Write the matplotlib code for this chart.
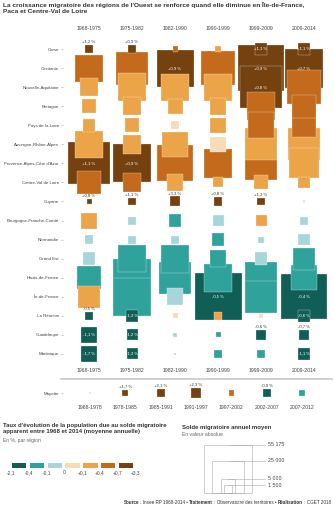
import matplotlib
matplotlib.use("Agg")
import matplotlib.pyplot as plt
import numpy as np
from matplotlib.patches import Rectangle
from matplotlib.lines import Line2D

plt.rcParams['font.family'] = ['Liberation Sans', 'DejaVu Sans']

periods = ["1968-1975", "1975-1982", "1982-1990", "1990-1999", "1999-2009", "2009-2014"]
regions = ["Corse", "Occitanie", "Nouvelle-Aquitaine", "Bretagne", "Pays de la Loire",
           "Auvergne-Rhône-Alpes", "Provence-Alpes-Côte d'Azur", "Centre-Val de Loire",
           "Guyane", "Bourgogne-Franche-Comté", "Normandie", "Grand Est", "Hauts-de-France",
           "Île-de-France", "La Réunion", "Guadeloupe", "Martinique"]

# taux annuel du au solde migratoire (%)
rate = np.array([
    [1.2, 0.9, 0.5, 0.3, 1.1, 1.1],
    [0.6, 0.6, 0.9, 0.5, 0.9, 0.7],
    [0.3, 0.35, 0.3, 0.3, 0.8, 0.5],
    [0.2, 0.25, 0.2, 0.2, 0.5, 0.45],
    [0.15, 0.15, 0.05, 0.2, 0.45, 0.4],
    [0.3, 0.15, 0.2, 0.05, 0.3, 0.3],
    [1.1, 0.9, 0.6, 0.4, 0.5, 0.2],
    [0.5, 0.5, 0.25, 0.2, 0.2, 0.15],
    [0.8, 1.1, 3.3, 0.8, 1.2, 0.05],
    [0.2, -0.05, -0.2, -0.05, 0.15, -0.05],
    [-0.05, -0.05, -0.05, -0.2, -0.02, -0.05],
    [-0.05, -0.2, -0.2, -0.15, -0.05, -0.15],
    [-0.2, -0.35, -0.3, -0.2, -0.15, -0.15],
    [0.15, -0.35, -0.05, -0.5, -0.2, -0.44],
    [-0.5, -1.3, 0.05, 0.2, 0.05, -0.6],
    [-1.1, -1.2, -0.05, -0.2, -0.6, -0.7],
    [-1.7, -1.3, -0.05, -0.2, -0.3, -1.1],
])

# solde migratoire annuel moyen (valeur absolue)
solde = np.array([
    [1500, 1500, 600, 860, 4000, 3400],
    [17500, 26000, 32800, 27700, 50700, 36400],
    [7800, 18800, 17500, 17500, 42200, 27700],
    [4700, 7800, 5400, 6900, 18800, 12700],
    [4000, 4700, 1500, 5400, 16200, 13800],
    [17500, 8600, 15000, 5400, 24500, 24500],
    [42200, 34600, 31000, 20100, 26000, 21500],
    [12700, 8600, 6900, 2400, 4700, 2900],
    [600, 1500, 2400, 1900, 1200, 200],
    [6100, 1500, 4000, 2900, 2900, 1500],
    [1900, 1500, 1500, 4000, 860, 2900],
    [4000, 17500, 18800, 6900, 4000, 11600],
    [12700, 34600, 24500, 18800, 24500, 15000],
    [11600, 34600, 6900, 52900, 24500, 48500],
    [1500, 3400, 600, 1500, 400, 3400],
    [6100, 2900, 400, 600, 2400, 2400],
    [6100, 2900, 100, 1200, 1200, 4000],
])

mayotte_periods = ["1968-1978", "1978-1985", "1985-1991", "1991-1997", "1997-2002", "2002-2007", "2007-2012"]
mayotte_rate = np.array([0.05, 1.7, 2.1, 2.3, 0.5, -0.9, -0.3])
mayotte_solde = np.array([100, 860, 1500, 2400, 600, 1500, 860])

class_bounds = [-2.1, -0.4, -0.1, 0, 0.1, 0.4, 0.7, 3.3]
class_labels = ["-2,1", "-0,4", "-0,1", "0", "+0,1", "+0,4", "+0,7", "+3,3"]
class_colors = ["#115e56", "#2fa39b", "#a8d5d9", "#f6dcb7", "#eba448", "#c46a1c", "#74410f"]

size_ref = [55175, 25000, 5000, 1500]
size_ref_labels = ["55 175", "25 000", "5 000", "1 500"]

W, H = 334, 512
MAX_SIDE = 48  # pixels for 55 175
FS = 3.7       # column labels
FS_ROW = 3.15  # region labels
TXT = "#444444"


def box(x0, y0, x1, y1):
    return [x0 / W, 1 - y1 / H, (x1 - x0) / W, (y1 - y0) / H]


def side_px(v):
    return MAX_SIDE * np.sqrt(np.abs(v) / 55175)


def class_of(r):
    return int(np.digitize(r, class_bounds[1:-1]))


def draw_squares(ax, xs, ys, vals, rates):
    xs, ys, vals, rates = [np.ravel(a) for a in (xs, ys, vals, rates)]
    order = np.argsort(-vals, kind="stable")
    side_pt = side_px(vals) * 72 / 100
    cols = [class_colors[class_of(r)] for r in rates]
    ax.scatter(xs[order], ys[order], s=side_pt[order] ** 2, marker="s",
               c=[cols[i] for i in order], edgecolors=(1, 1, 1, 0.55),
               linewidths=0.35, clip_on=False, zorder=2)
    for x, y, v, r, sp in zip(xs, ys, vals, rates, side_pt):
        k = class_of(r)
        if k not in (0, 6):
            continue
        txt = f"{r:+.1f} %".replace(".", ",")
        if side_px(v) > 11:
            ax.annotate(txt, (x, y), ha="center", va="center", fontsize=3.1,
                        color="white", zorder=4, annotation_clip=False)
        else:
            ax.annotate(txt, (x, y), xytext=(0, sp / 2 + 0.8), textcoords="offset points",
                        ha="center", va="bottom", fontsize=3.1, color="#333333",
                        zorder=4, annotation_clip=False)


def style_axes(a, pad_x):
    a.tick_params(axis="y", length=1.6, width=0.4, color="#999999", pad=1.4,
                  labelsize=FS_ROW, labelcolor=TXT)
    a.tick_params(axis="x", length=0, pad=pad_x, labelsize=FS, labelcolor=TXT)
    for s in a.spines.values():
        s.set_visible(False)


fig = plt.figure(figsize=(W / 100, H / 100), dpi=100)

fig.text(3 / W, 1 - 2 / H,
         "La croissance migratoire des régions de l'Ouest se renforce quand elle diminue en Île-de-France,\n"
         "Paca et Centre-Val de Loire",
         ha="left", va="top", fontsize=4.65, fontweight="bold", color="#333333", linespacing=1.15)

# main grid
ax = fig.add_axes(box(63, 39.47, 325.5, 363.5))
ax.set_xlim(-0.605, 5.5)
ax.set_ylim(16.5, -0.5)
gx, gy = np.meshgrid(np.arange(len(periods)), np.arange(len(regions)))
draw_squares(ax, gx, gy, solde, rate)
ax.set_yticks(range(len(regions)), labels=regions)
ax.set_xticks(range(len(periods)), labels=periods)
style_axes(ax, 3)
sec = ax.secondary_xaxis("top")
sec.set_xticks(range(len(periods)), labels=periods)
sec.tick_params(length=0, pad=6, labelsize=FS, labelcolor=TXT)
sec.spines["top"].set_visible(False)

fig.add_artist(Line2D([61 / W, 332 / W], [1 - 379 / H] * 2, transform=fig.transFigure,
                      color="#c8c8c8", lw=1.2))

# Mayotte
axm = fig.add_axes(box(63, 383.5, 319.65, 402.5))
axm.set_xlim(-0.765, 6.5)
axm.set_ylim(0.5, -0.5)
mx = np.arange(len(mayotte_periods))
draw_squares(axm, mx, np.zeros(len(mx)), mayotte_solde, mayotte_rate)
axm.set_yticks([0], labels=["Mayotte"])
axm.set_xticks(mx, labels=mayotte_periods)
style_axes(axm, 2)

# colour legend
fig.text(3 / W, 1 - 423 / H,
         "Taux d'évolution de la population due au solde migratoire\n"
         "apparent entre 1968 et 2014 (moyenne annuelle)",
         ha="left", va="top", fontsize=4.3, fontweight="bold", color="#333333", linespacing=1.15)
fig.text(3 / W, 1 - 440.5 / H, "En %, par région", ha="left", va="center", fontsize=3.6, color="#666666")

axl = fig.add_axes(box(11, 463, 135.6, 468))
axl.bar(np.arange(7) + 0.06, 1, width=0.8, align="edge", color=class_colors)
axl.set_xlim(0, 7)
axl.set_ylim(0, 1)
axl.set_yticks([])
axl.set_xticks(range(8), labels=class_labels)
axl.tick_params(axis="x", length=0, pad=1.5, labelsize=3.5, labelcolor=TXT)
for s in axl.spines.values():
    s.set_visible(False)

# size legend
fig.text(182 / W, 1 - 427 / H, "Solde migratoire annuel moyen", ha="left", va="center",
         fontsize=4.3, fontweight="bold", color="#333333")
fig.text(182 / W, 1 - 434.5 / H, "En valeur absolue", ha="left", va="center", fontsize=3.6, color="#666666")

axs = fig.add_axes(box(190, 440, 334, 500))
axs.set_xlim(190, 334)
axs.set_ylim(500, 440)
axs.axis("off")
cx, base = 228, 493
for v, lab in zip(size_ref, size_ref_labels):
    sd = side_px(v)
    axs.add_patch(Rectangle((cx - sd / 2, base - sd), sd, sd, fill=False, ec="#aaaaaa", lw=0.4))
    axs.plot([cx, 265], [base - sd, base - sd], color="#aaaaaa", lw=0.4)
    axs.text(268, base - sd, lab, ha="left", va="center", fontsize=3.8, color=TXT)

# source line
pieces = [("Source", "bold"), (" : Insee RP 1968-2014 • ", "normal"), ("Traitement", "bold"),
          (" : Observatoire des territoires • ", "normal"), ("Réalisation", "bold"),
          (" : CGET 2018", "normal")]
renderer = fig.canvas.get_renderer()
x = 331
for txt, w in reversed(pieces):
    t = fig.text(x / W, 1 - 503 / H, txt, ha="right", va="center", fontsize=3.35,
                 fontweight=w, color="#333333")
    bb = t.get_window_extent(renderer)
    x -= bb.width

fig.savefig("out.png", dpi=100)
